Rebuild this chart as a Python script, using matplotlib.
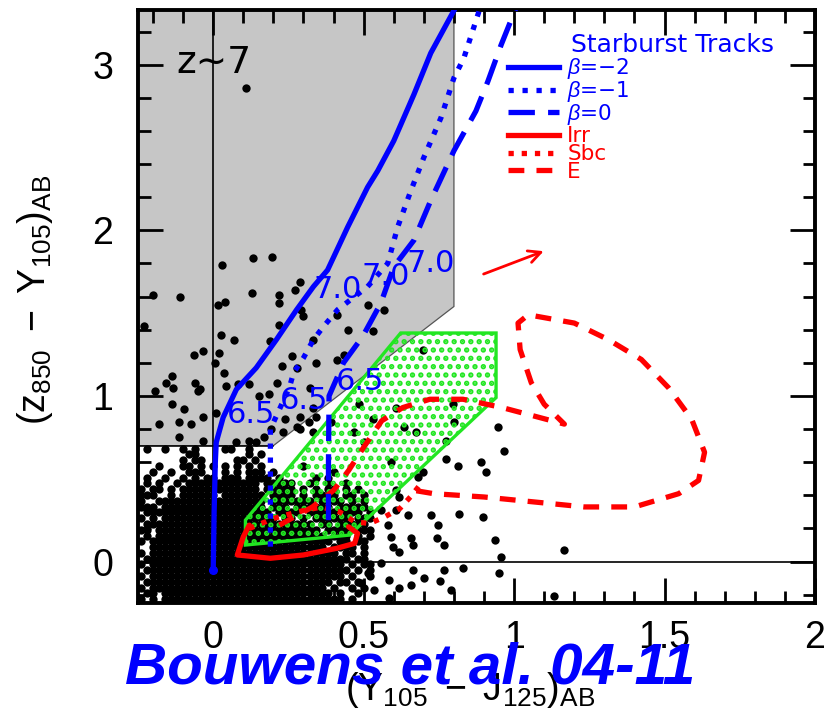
import numpy as np
import matplotlib
matplotlib.use("Agg")
import matplotlib.pyplot as plt
from matplotlib.patches import Polygon
from matplotlib.lines import Line2D

plt.rcParams['font.family'] = ['Liberation Sans', 'DejaVu Sans']
plt.rcParams['mathtext.fontset'] = 'custom'
plt.rcParams['mathtext.rm'] = 'Liberation Sans'
plt.rcParams['mathtext.it'] = 'Liberation Sans:italic'
plt.rcParams['hatch.linewidth'] = 2.6

# --- selection box (z ~ 7 dropouts) ---
sel_x = [-0.25, 0.2, 0.8, 0.8, -0.25]
sel_y = [0.7, 0.7, 1.54, 3.5, 3.5]

# --- low-z galaxy region (green) ---
lowz_x = [0.107, 0.107, 0.623, 0.94, 0.94, 0.453]
lowz_y = [0.10, 0.25, 1.38, 1.38, 0.99, 0.16]

# --- starburst tracks ---
bm2_x = [0.0, 0.003, 0.007, 0.01, 0.033, 0.077, 0.143, 0.21, 0.277, 0.333, 0.38, 0.447, 0.513, 0.547, 0.6, 0.667, 0.723, 0.81]
bm2_y = [-0.05, 0.3, 0.6, 0.72, 0.87, 1.04, 1.17, 1.34, 1.52, 1.66, 1.76, 2.02, 2.26, 2.36, 2.54, 2.82, 3.07, 3.36]
bm1_x = [0.19, 0.19, 0.19, 0.253, 0.267, 0.3, 0.333, 0.367, 0.413, 0.513, 0.58, 0.613, 0.657, 0.7, 0.757, 0.8, 0.833, 0.89]
bm1_y = [0.09, 0.5, 0.8, 1.05, 1.14, 1.23, 1.34, 1.42, 1.52, 1.66, 1.80, 2.02, 2.24, 2.44, 2.68, 2.92, 3.04, 3.36]
b0_x = [0.383, 0.383, 0.385, 0.433, 0.497, 0.557, 0.6, 0.667, 0.723, 0.8, 0.873, 0.913, 0.957, 1.01]
b0_y = [0.25, 0.6, 1.0, 1.2, 1.36, 1.56, 1.78, 1.94, 2.18, 2.48, 2.72, 2.9, 3.12, 3.36]

# redshift marks along the tracks
zlab_text = ['7.0', '7.0', '7.0', '6.5', '6.5', '6.5']
zlab_x = [0.413, 0.573, 0.723, 0.127, 0.303, 0.487]
zlab_y = [1.64, 1.72, 1.80, 0.89, 0.97, 1.09]

# --- low-z galaxy tracks ---
irr_x = [0.12, 0.10, 0.08, 0.19, 0.30, 0.41, 0.47, 0.48, 0.45]
irr_y = [0.22, 0.15, 0.04, 0.02, 0.04, 0.08, 0.11, 0.17, 0.21]
sbc_x = [0.12, 0.20, 0.28, 0.36, 0.42, 0.47, 0.52, 0.57, 0.62, 0.66, 0.69]
sbc_y = [0.20, 0.26, 0.30, 0.33, 0.30, 0.24, 0.23, 0.27, 0.32, 0.40, 0.47]
ell_x = [0.22, 0.33, 0.40, 0.45, 0.50, 0.56, 0.63, 0.72, 0.83, 0.96, 1.167, 1.10, 1.057, 1.02, 1.013, 1.047,
         1.2, 1.313, 1.423, 1.513, 1.59, 1.633, 1.613, 1.547, 1.4, 1.233, 1.067, 0.9, 0.733, 0.667]
ell_y = [0.22, 0.33, 0.43, 0.55, 0.69, 0.85, 0.93, 0.98, 0.98, 0.93, 0.83, 0.95, 1.08, 1.28, 1.44, 1.49,
         1.44, 1.34, 1.22, 1.05, 0.86, 0.66, 0.49, 0.41, 0.33, 0.33, 0.36, 0.39, 0.41, 0.43]

# reddening vector
arrow_start = (0.89, 1.73)
arrow_end = (1.107, 1.88)

# --- field galaxies, sparse part ---
pts_x = [0.11, 0.03, 0.133, 0.197, 0.13, 0.217, 0.273, 0.29, -0.11, -0.2, 0.22, 0.04, 0.017, -0.23, 0.293,
         0.3, 0.22, 0.027, 0.07, 0.19, -0.063, -0.033, 0.02, 0.007, 0.263, 0.227, 0.037, -0.137, -0.157,
         -0.06, -0.133, -0.193, -0.05, 0.043, 0.083, 0.12, 0.32, -0.137, -0.097, 0.01, 0.153, 0.187,
         -0.113, -0.073, -0.033, -0.18, -0.113, -0.033, 0.077, 0.12, 0.143, 0.237, 0.233, 0.287, 0.317,
         0.343, 0.193, 0.17, 0.333, 0.413, 0.447, 0.513, 0.567, 0.53, 0.413, 0.433, -0.043, 0.34, 0.28,
         0.213, 0.33, 0.29, 0.28, 0.333, 0.39,
         0.483, 0.53, 0.467, 0.5, 0.59, 0.697, 0.797, 0.8, 0.633, 0.673, 0.773, 0.947, 0.967, 0.89,
         0.907, 0.813, 0.773, 0.697, 0.68, 0.607, 0.617, 0.557, 0.607, 0.647, 0.723, 0.817, 0.897,
         0.747, 0.58, 0.59, 0.597, 0.663, 0.657, 0.743, 0.767, 0.937, 0.957, 0.617, 0.557, 0.663,
         0.767, 0.83, 0.95, 0.7, 0.753, 0.657, 0.583, 0.513, 0.49, 0.617, 0.583, 0.533, 1.167, 1.133,
         0.79, 0.607]
pts_y = [2.86, 1.79, 1.83, 1.84, 1.62, 1.61, 1.64, 1.69, 1.6, 1.61, 1.56, 1.57, 1.55, 1.42, 1.52,
         1.48, 1.43, 1.37, 1.34, 1.33, 1.25, 1.27, 1.26, 1.2, 1.24, 1.18, 1.14, 1.12, 1.08,
         1.08, 1.05, 1.03, 1.03, 1.06, 1.07, 1.07, 1.05, 0.95, 0.92, 0.9, 1.0, 1.01,
         0.84, 0.83, 0.87, 0.83, 0.75, 0.73, 0.72, 0.73, 0.72, 0.86, 0.78, 0.8, 0.84,
         0.87, 0.8, 0.75, 1.34, 1.49, 1.4, 1.55, 1.52, 1.39, 1.22, 1.25, 1.04, 1.2, 1.17,
         1.08, 0.93, 0.87, 0.81, 0.78, 0.84,
         0.95, 0.86, 0.78, 0.72, 0.6, 1.28, 0.95, 0.84, 0.81, 0.78, 0.73, 0.81, 0.67, 0.6,
         0.54, 0.58, 0.62, 0.54, 0.51, 0.43, 0.39, 0.31, 0.31, 0.28, 0.28, 0.29, 0.27,
         0.22, 0.22, 0.15, 0.09, 0.1, 0.14, 0.14, 0.1, 0.13, 0.03, 0.06, -0.01, -0.05,
         -0.05, -0.04, -0.07, -0.1, -0.12, -0.14, -0.11, -0.07, -0.13, -0.16, -0.22, -0.17, 0.07, -0.21,
         -0.17, 0.93]

# --- field galaxies, crowded part: occupancy map, cells of 0.02 x 0.035 from (-0.25, 0.7) ---
core_map = [
    ".#..#..#.#....##..#.....................",
    "........##........#.#...................",
    ".......#.##.....##.#....................",
    "...#...##.#.#.#.#.#.#......#............",
    "..#..#..###...#.#.###.#.........#.......",
    ".#..#..#.#.##.###.####.#.....#.#........",
    ".#.#..#.############.#####..#..#..#.....",
    "#.##.#.#############.#####.#.#.##.#.#...",
    "###..#.######.#######.####.#.####.##.#..",
    "#..##################.#######.####.#.#..",
    "###.#################.###.######.#####..",
    ".#####################.####.#####.###.#.",
    "#.#.###################.##.#.######.###.",
    ".############################.##.#####..",
    "##.###########################.####.###.",
    ".#.############################.###.#.#.",
    "#.##############################.##.##..",
    "..#############################.####.#..",
    "#.###############################.##.#..",
    ".##################################.##..",
    "#.################################.#.##.",
    ".##################################.#.#.",
    "#.################################.#..#.",
    ".###############################.##.#...",
    "#.#############################.#..#.#..",
    ".##.############################.#..#...",
    "#.#.##############################.#....",
]
core_x0, core_y0, core_dx, core_dy = -0.25, 0.7, 0.02, 0.035
core_x, core_y = [], []
for r, row in enumerate(core_map):
    for c, ch in enumerate(row):
        if ch == '#':
            core_x.append(core_x0 + core_dx * (c + 0.5))
            core_y.append(core_y0 - core_dy * (r + 0.5))

blue = '#0000ff'
red = '#ff0000'
green = '#22e622'
minus = '\u2212'

fig = plt.figure(figsize=(8.24, 7.18), dpi=100)
ax = fig.add_axes([138/824, 1-603/718, 677/824, 593/718])

ax.add_patch(Polygon(np.column_stack([sel_x, sel_y]), closed=True, facecolor='#c6c6c6',
                     edgecolor='#555555', lw=0.9, zorder=0))
ax.plot([-0.25, 0.2], [0.7, 0.7], color='black', lw=1.1, zorder=1)
ax.axvline(0, color='black', lw=1.2, zorder=1)
ax.axhline(0, color='black', lw=1.2, zorder=1)

ax.scatter(pts_x, pts_y, s=36, color='black', lw=0, zorder=2)
ax.scatter(core_x, core_y, s=36, color='black', lw=0, zorder=2)

ax.add_patch(Polygon(np.column_stack([lowz_x, lowz_y]), closed=True, facecolor='none',
                     edgecolor=green, hatch='..', lw=2.4, zorder=3))

lw = 3.8
ax.plot(irr_x, irr_y, color=red, lw=lw, solid_capstyle='round', zorder=4)
ax.plot(sbc_x, sbc_y, color=red, lw=lw, ls=(0, (1, 1.5)), zorder=4)
ax.plot(ell_x, ell_y, color=red, lw=lw, ls=(0, (3, 2.3)), zorder=4)
ax.annotate('', xy=arrow_end, xytext=arrow_start,
            arrowprops=dict(arrowstyle='->', color=red, lw=2, mutation_scale=22), zorder=4)

ax.plot(bm2_x, bm2_y, color=blue, lw=lw, solid_capstyle='round', zorder=5)
ax.plot(bm1_x, bm1_y, color=blue, lw=lw, ls=(0, (1, 1.65)), zorder=5)
ax.plot(b0_x, b0_y, color=blue, lw=lw, ls=(0, (5, 2.5)), zorder=5)
ax.scatter([bm2_x[0]], [bm2_y[0]], s=30, color=blue, zorder=5)

for t, x, y in zip(zlab_text, zlab_x, zlab_y):
    ax.text(x, y, t, color=blue, fontsize=22, ha='center', va='center', zorder=6,
            family=['DejaVu Sans'])

ax.text(-0.123, 2.95, 'z\u223c7', fontsize=27, color='black', ha='left', va='baseline',
        family=['DejaVu Sans'], zorder=6)

# legend
ax.text(0.79, 0.941, 'Starburst Tracks', transform=ax.transAxes, color=blue, fontsize=18,
        ha='center', va='center', family=['DejaVu Sans'])
h_blue = [Line2D([], [], color=blue, lw=lw),
          Line2D([], [], color=blue, lw=lw, ls=(0, (1, 1.65))),
          Line2D([], [], color=blue, lw=lw, ls=(0, (5, 2.5)))]
h_red = [Line2D([], [], color=red, lw=lw),
         Line2D([], [], color=red, lw=lw, ls=(0, (1, 1.5))),
         Line2D([], [], color=red, lw=lw, ls=(0, (3, 2.3)))]
leg_props = dict(loc='upper left', frameon=False, handlelength=2.35, handletextpad=0.4,
                 labelspacing=-0.1, borderpad=0, borderaxespad=0,
                 prop={'family': 'DejaVu Sans', 'size': 15.5})
leg1 = ax.legend(h_blue, [r'$\beta$=' + minus + '2', r'$\beta$=' + minus + '1', r'$\beta$=0'],
                 bbox_to_anchor=(0.5465, 0.922), labelcolor=blue, **leg_props)
ax.add_artist(leg1)
ax.legend(h_red, ['Irr', 'Sbc', 'E'], bbox_to_anchor=(0.5465, 0.804), labelcolor=red, **leg_props)

ax.set_xlim(-0.25, 2.0)
ax.set_ylim(-0.25, 3.33)
ax.set_xticks([0, 0.5, 1, 1.5, 2])
ax.set_xticklabels(['0', '0.5', '1', '1.5', '2'])
ax.set_yticks([0, 1, 2, 3])
ax.set_xticks(np.arange(-0.2, 2.0, 0.1), minor=True)
ax.set_yticks(np.arange(-0.2, 3.3, 0.2), minor=True)
ax.tick_params(which='both', direction='in', top=True, right=True, width=2.0, labelsize=27)
ax.tick_params(which='major', length=18)
ax.tick_params(which='minor', length=9)
ax.tick_params(axis='x', pad=12)
ax.tick_params(axis='y', pad=18)
for s in ax.spines.values():
    s.set_linewidth(2.8)

fig.text(35/824, 1-300/718, r'$(\mathrm{z}_{850}\ -\ \mathrm{Y}_{105})_{\mathrm{AB}}$',
         rotation=90, fontsize=27, ha='center', va='center')
fig.text(470/824, 1-690/718, r'$(\mathrm{Y}_{105}\ -\ \mathrm{J}_{125})_{\mathrm{AB}}$',
         fontsize=27, ha='center', va='center')
fig.text(410/824, 1-668/718, 'Bouwens et al. 04-11', color=blue, fontsize=42,
         fontweight='bold', fontstyle='italic', ha='center', va='center')

fig.savefig('out.png', dpi=100)
